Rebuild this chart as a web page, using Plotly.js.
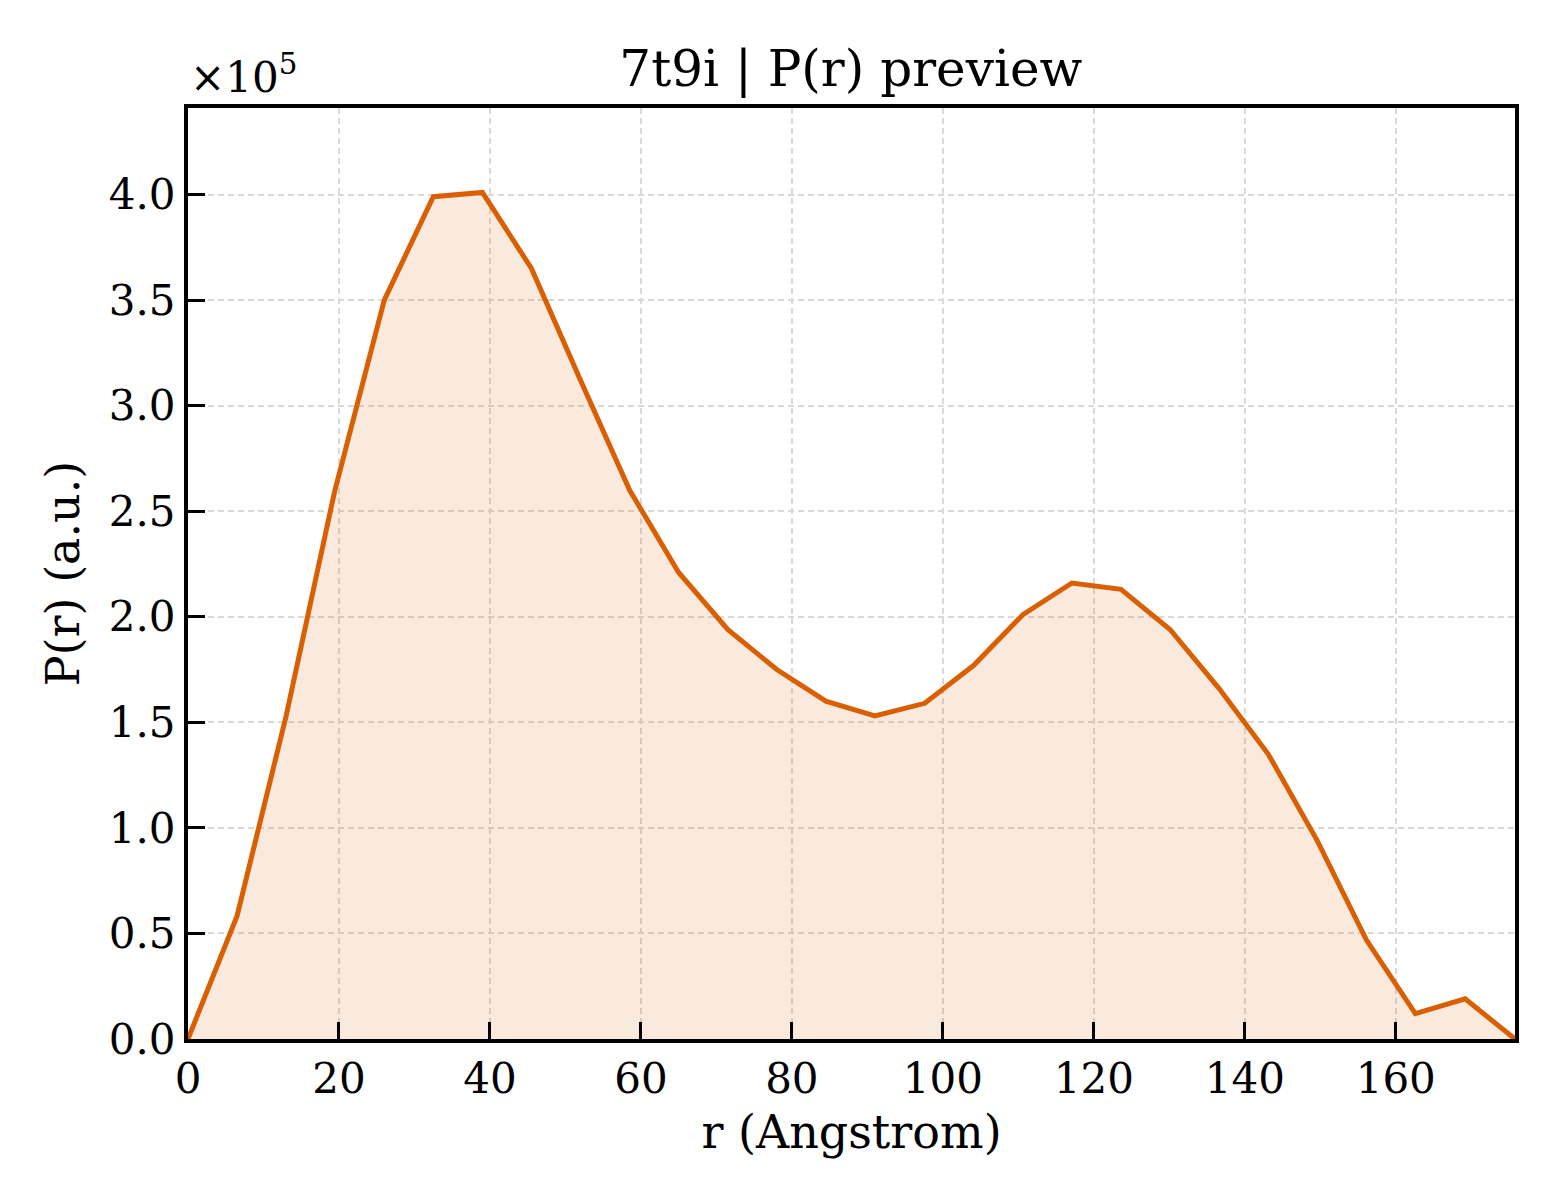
<!DOCTYPE html>
<html>
<head>
<meta charset="utf-8">
<script src="https://cdn.plot.ly/plotly-3.0.1.min.js"></script>
<style>
  html, body { margin: 0; padding: 0; background: #fff; }
  #chart { width: 1560px; height: 1200px; }
</style>
</head>
<body>
<div id="chart"></div>
<script>
// P(r) distance distribution
const rAngstrom = [0, 6.5, 13.0, 19.4, 26.0, 32.5, 39.0, 45.5, 52.0, 58.5, 65.0, 71.5,
  78.0, 84.5, 91.0, 97.6, 104.1, 110.6, 117.1, 123.6, 130.1, 136.6, 143.1, 149.6,
  156.1, 162.6, 169.2, 175.8];
const pr = [0, 58300, 153000, 259000, 350000, 399000, 401000, 365000, 312000, 260000,
  221000, 194000, 175000, 160000, 153000, 159000, 177000, 201000, 216000, 213000,
  194000, 166000, 135000, 94000, 47000, 12000, 19000, 0];

const yTickVals = [0, 50000, 100000, 150000, 200000, 250000, 300000, 350000, 400000];
const yTickText = ['0.0', '0.5', '1.0', '1.5', '2.0', '2.5', '3.0', '3.5', '4.0'];
const xTickVals = [0, 20, 40, 60, 80, 100, 120, 140, 160];

const serif = 'DejaVu Serif, serif';
const lineColor = '#D95F02';
const gridColor = '#d9d9d9';

const data = [{
  type: 'scatter',
  mode: 'lines',
  x: rAngstrom,
  y: pr,
  fill: 'tozeroy',
  fillcolor: 'rgba(217,95,2,0.13)',
  line: { color: lineColor, width: 5 },
  hoverinfo: 'x+y'
}];

const axisCommon = {
  showline: true, linecolor: '#000', linewidth: 4, mirror: true,
  ticks: 'inside', ticklen: 17, tickwidth: 3, tickcolor: '#000',
  showgrid: true, gridcolor: gridColor, gridwidth: 1.5, griddash: '6px,4px',
  zeroline: false,
  tickfont: { family: serif, size: 42, color: '#000' }
};

const layout = {
  width: 1560, height: 1200,
  paper_bgcolor: '#fff', plot_bgcolor: '#fff',
  margin: { l: 188, r: 45, t: 108, b: 161 },
  font: { family: serif, color: '#000' },
  showlegend: false,
  title: {
    text: '7t9i | P(r) preview',
    font: { family: serif, size: 50, color: '#000' },
    x: 0.5454, xanchor: 'center',
    yref: 'container', y: 0.943, yanchor: 'middle'
  },
  xaxis: Object.assign({}, axisCommon, {
    range: [0, 175.8],
    tickvals: xTickVals,
    title: { text: 'r (Angstrom)', font: { family: serif, size: 46, color: '#000' }, standoff: 14 }
  }),
  yaxis: Object.assign({}, axisCommon, {
    range: [0, 441000],
    tickvals: yTickVals,
    ticktext: yTickText,
    title: { text: 'P(r) (a.u.)', font: { family: serif, size: 46, color: '#000' }, standoff: 16 }
  }),
  annotations: [{
    xref: 'paper', yref: 'paper', x: 0, y: 1,
    xanchor: 'left', yanchor: 'bottom', yshift: 4, showarrow: false,
    text: '×10<sup>5</sup>',
    font: { family: serif, size: 42, color: '#000' }
  }]
};

Plotly.newPlot('chart', data, layout, { displayModeBar: false });
</script>
</body>
</html>
